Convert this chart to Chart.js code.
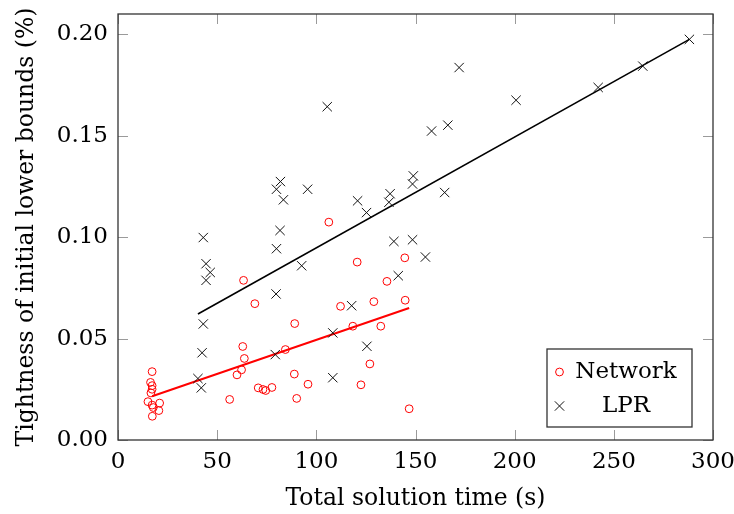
<!DOCTYPE html>
<html>
<head>
<meta charset="utf-8">
<script src="https://cdn.jsdelivr.net/npm/chart.js@4.4.1/dist/chart.umd.min.js"></script>
<style>html,body{margin:0;padding:0;background:#fff}</style>
</head>
<body>
<canvas id="c" width="734" height="514"></canvas>
<script>
// Network runs: total solution time (s) vs. tightness of initial lower bounds (%)
const networkTime = [106.3,120.6,144.6,135.6,63.3,69.0,112.2,129.0,144.8,89.1,118.4,132.5,62.9,84.4,63.7,127.0,60.0,62.3,88.9,70.7,73.1,74.5,77.6,95.8,122.5,56.3,90.1,146.8,17.2,16.4,17.2,16.6,17.2,15.1,17.2,17.8,21.0,20.6,17.3];
const networkBound = [0.1074,0.0877,0.0898,0.0782,0.0787,0.0672,0.0659,0.0682,0.0689,0.0574,0.0561,0.0561,0.0461,0.0446,0.0402,0.0375,0.0321,0.0346,0.0325,0.0257,0.0249,0.0244,0.0259,0.0275,0.0272,0.0200,0.0205,0.0154,0.0337,0.0284,0.0268,0.0232,0.0250,0.0189,0.0172,0.0160,0.0182,0.0145,0.0117];
// LPR runs
const lprTime = [288.1,264.6,242.1,200.7,172.0,166.3,158.1,105.5,164.7,148.9,148.5,137.2,136.6,120.8,125.3,95.6,81.9,79.9,83.4,81.7,79.9,92.6,79.7,43.0,44.4,46.5,44.4,43.0,42.4,40.3,42.0,79.3,108.3,108.3,117.8,125.5,139.1,148.5,155.0,141.3];
const lprBound = [0.1975,0.1843,0.1738,0.1675,0.1836,0.1552,0.1523,0.1643,0.1220,0.1302,0.1262,0.1214,0.1172,0.1179,0.1121,0.1236,0.1274,0.1236,0.1184,0.1033,0.0943,0.0859,0.0720,0.0998,0.0869,0.0826,0.0787,0.0572,0.0430,0.0303,0.0257,0.0421,0.0528,0.0307,0.0662,0.0462,0.0979,0.0987,0.0902,0.0810];
// fitted trend lines (end points)
const networkFitTime = [17.2,146.8];
const networkFitBound = [0.0216,0.0651];
const lprFitTime = [40.3,288.1];
const lprFitBound = [0.0621,0.1975];

const xTicks = [0,50,100,150,200,250,300];
const yTicks = [0,0.05,0.10,0.15,0.20];

const toPts = (xs, ys) => xs.map((x, i) => ({x, y: ys[i]}));
const FONT = 'DejaVu Serif';
const FS = 23;

const noPad = s => { s.paddingLeft = 0; s.paddingRight = 0; s.paddingTop = 0; s.paddingBottom = 0; };

const framePlugin = {
  id: 'frame',
  beforeDatasetsDraw(chart) {
    const {ctx, chartArea: a, scales: {x, y}} = chart;
    const len = 10;
    ctx.save();
    ctx.strokeStyle = '#9a9a9a';
    ctx.lineWidth = 1;
    ctx.beginPath();
    xTicks.forEach(v => {
      const px = Math.round(x.getPixelForValue(v)) + 0.5;
      ctx.moveTo(px, a.bottom); ctx.lineTo(px, a.bottom - len);
      ctx.moveTo(px, a.top); ctx.lineTo(px, a.top + len);
    });
    yTicks.forEach(v => {
      const py = Math.round(y.getPixelForValue(v)) + 0.5;
      ctx.moveTo(a.left, py); ctx.lineTo(a.left + len, py);
      ctx.moveTo(a.right, py); ctx.lineTo(a.right - len, py);
    });
    ctx.stroke();
    ctx.restore();
  },
  afterDraw(chart) {
    const {ctx, chartArea: a} = chart;
    ctx.save();
    ctx.strokeStyle = '#333';
    ctx.lineWidth = 1.3;
    ctx.strokeRect(a.left, a.top, a.right - a.left, a.bottom - a.top);

    // legend box
    const bx = 547, by = 349, bw = 145, bh = 78;
    ctx.fillStyle = '#fff';
    ctx.fillRect(bx, by, bw, bh);
    ctx.strokeRect(bx, by, bw, bh);
    const ds = chart.data.datasets;
    [[ds[0], 'Network', 372], [ds[1], 'LPR', 406]].forEach(([d, label, ly]) => {
      ctx.strokeStyle = d.borderColor;
      ctx.lineWidth = d.borderWidth;
      ctx.beginPath();
      if (d.pointStyle === 'circle') {
        ctx.arc(559.5, ly, d.pointRadius, 0, Math.PI * 2);
      } else {
        const r = d.pointRadius * Math.SQRT1_2;
        ctx.moveTo(559.5 - r, ly - r); ctx.lineTo(559.5 + r, ly + r);
        ctx.moveTo(559.5 - r, ly + r); ctx.lineTo(559.5 + r, ly - r);
      }
      ctx.stroke();
      ctx.fillStyle = '#000';
      ctx.font = FS + 'px "' + FONT + '"';
      ctx.textAlign = 'center';
      ctx.textBaseline = 'middle';
      ctx.fillText(label, 626, ly);
    });
    ctx.restore();
  }
};

new Chart(document.getElementById('c'), {
  type: 'scatter',
  data: {
    datasets: [
      { label: 'Network', data: toPts(networkTime, networkBound), pointStyle: 'circle', pointRadius: 3.9,
        borderColor: '#ff0000', backgroundColor: 'rgba(0,0,0,0)', borderWidth: 1 },
      { label: 'LPR', data: toPts(lprTime, lprBound), pointStyle: 'crossRot', pointRadius: 6.6,
        borderColor: '#111', backgroundColor: 'rgba(0,0,0,0)', borderWidth: 1 },
      { type: 'line', label: 'Network fit', data: toPts(networkFitTime, networkFitBound),
        borderColor: '#ff0000', borderWidth: 2, pointRadius: 0, fill: false },
      { type: 'line', label: 'LPR fit', data: toPts(lprFitTime, lprFitBound),
        borderColor: '#000', borderWidth: 1.6, pointRadius: 0, fill: false }
    ]
  },
  options: {
    responsive: false,
    animation: false,
    devicePixelRatio: 1,
    layout: { padding: { top: 14, right: 21, left: 0, bottom: 0 } },
    plugins: { legend: { display: false }, tooltip: { enabled: false } },
    scales: {
      x: {
        type: 'linear', min: 0, max: 300,
        afterBuildTicks: s => { s.ticks = xTicks.map(v => ({value: v})); },
        afterFit: s => { s.height = 74; noPad(s); },
        grid: { display: false, drawTicks: false }, border: { display: false },
        ticks: { color: '#000', padding: 8, maxRotation: 0, font: { family: FONT, size: FS },
          callback: v => String(v) },
        title: { display: true, text: 'Total solution time (s)', color: '#000',
          font: { family: FONT, size: FS + 0.5 }, padding: { top: 0, bottom: 1 } }
      },
      y: {
        type: 'linear', min: 0, max: 0.21,
        afterBuildTicks: s => { s.ticks = yTicks.map(v => ({value: v})); },
        afterFit: s => { s.width = 118; noPad(s); },
        grid: { display: false, drawTicks: false }, border: { display: false },
        ticks: { color: '#000', padding: 10, font: { family: FONT, size: FS },
          callback: v => v.toFixed(2) },
        title: { display: true, text: 'Tightness of initial lower bounds (%)', color: '#000',
          font: { family: FONT, size: FS + 0.5 }, padding: { top: 13, bottom: 0 } }
      }
    }
  },
  plugins: [framePlugin]
});
</script>
</body>
</html>
